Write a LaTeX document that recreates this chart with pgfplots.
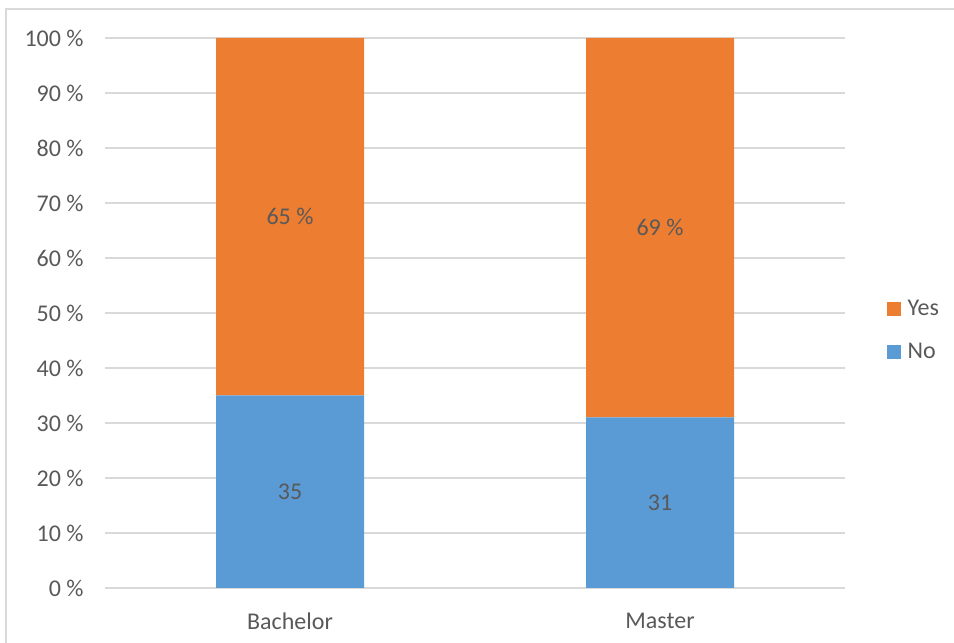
\documentclass[border=0pt]{standalone}
\usepackage{pgfplots}
\pgfplotsset{compat=1.18}
\usepackage{fontspec}
\setmainfont{Carlito}
\definecolor{cyes}{HTML}{ED7D31}
\definecolor{cno}{HTML}{5B9BD5}
\definecolor{txt}{HTML}{595959}
\definecolor{gridc}{HTML}{D9D9D9}
\begin{document}
\begin{tikzpicture}[x=0.75pt,y=0.75pt]
\useasboundingbox (0,0) rectangle (954,643);
\draw[gridc, line width=0.9pt] (6,-20) -- (6,634) -- (980,634);
\begin{axis}[
  at={(78.75pt,41.25pt)}, anchor=south west,
  scale only axis, width=555pt, height=412.5pt,
  ybar stacked, bar width=111pt,
  xmin=-0.5, xmax=1.5, ymin=0, ymax=100,
  xtick={0,1}, xticklabels={Bachelor,Master},
  ytick={0,10,...,100},
  /pgf/number format/assume math mode=true,
  yticklabel={\pgfmathprintnumber{\tick}~\%},
  ymajorgrids=true,
  major grid style={gridc, line width=0.9pt},
  axis line style={draw=none},
  major tick length=0pt,
  tick label style={font=\fontsize{18}{22}\selectfont, text=txt},
  yticklabel style={xshift=-12.5pt},
  xticklabel style={yshift=-15pt},
  point meta=rawy,
  every node near coord/.append style={anchor=center, font=\fontsize{18}{22}\selectfont, text=txt},
  reverse legend,
  legend style={at={(1.051,0.468)}, anchor=west, draw=none, fill=none,
    font=\fontsize{18}{22}\selectfont, text=txt, row sep=15pt,
    nodes={inner xsep=5pt},
    /tikz/every even column/.append style={column sep=0pt}},
  legend cell align=left,
  legend image code/.code={\fill[#1,draw=none] (0pt,-5.25pt) rectangle (10.5pt,5.25pt);},
]
\addplot[fill=cno, draw=none, nodes near coords={\pgfmathprintnumber{\pgfplotspointmeta}}] coordinates {(0,35) (1,31)};
\addplot[fill=cyes, draw=none, nodes near coords={\pgfmathprintnumber{\pgfplotspointmeta}~\%}] coordinates {(0,65) (1,69)};
\legend{No,Yes}
\end{axis}
\end{tikzpicture}
\end{document}
